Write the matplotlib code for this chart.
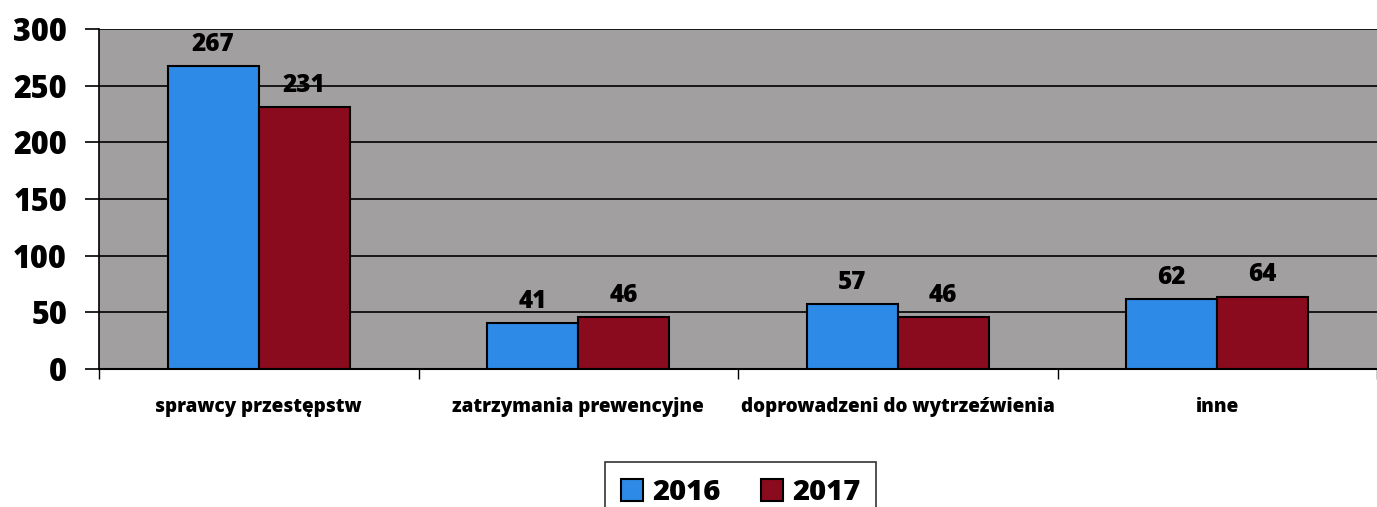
import matplotlib
matplotlib.use("Agg")
import matplotlib.pyplot as plt
import numpy as np

categories = ["sprawcy przestępstw", "zatrzymania prewencyjne",
              "doprowadzeni do wytrzeźwienia", "inne"]
years = ["2016", "2017"]
values_2016 = [267, 41, 57, 62]
values_2017 = [231, 46, 46, 64]

plt.rcParams['font.family'] = ['Open Sans', 'DejaVu Sans']
plt.rcParams['font.weight'] = 'heavy'

fig = plt.figure(figsize=(13.77, 5.07), dpi=100)
ax = fig.add_axes([0.0719, 0.272, 0.9281, 0.671])
ax.set_facecolor("#a19f9f")

x = np.arange(len(categories))
w = 0.285
b1 = ax.bar(x - w / 2, values_2016, w, color="#2d8ae6", edgecolor="black",
            linewidth=1.5, label=years[0], zorder=3)
b2 = ax.bar(x + w / 2, values_2017, w, color="#8a0a1e", edgecolor="black",
            linewidth=1.5, label=years[1], zorder=3)

for bars in (b1, b2):
    for r in bars:
        ax.text(r.get_x() + r.get_width() / 2, r.get_height() + 8, str(int(r.get_height())),
                ha="center", va="bottom", fontsize=17.5, fontweight="heavy", zorder=4)

ax.set_xlim(-0.5, len(categories) - 0.5)
ax.set_ylim(0, 300)
ax.set_yticks(range(0, 301, 50))
ax.yaxis.grid(True, color="black", linewidth=1.2, zorder=1)
ax.tick_params(axis="y", labelsize=22, length=10, width=1.2, pad=13)

ax.set_xticks(x)
ax.set_xticklabels(categories, fontsize=13.6, fontweight="heavy")
ax.set_xticks(np.arange(len(categories) + 1) - 0.5, minor=True)
ax.tick_params(axis="x", which="major", length=0, pad=20)
ax.tick_params(axis="x", which="minor", length=7, width=1)

for s in ["top", "right"]:
    ax.spines[s].set_visible(False)
ax.spines["left"].set_linewidth(1.2)
ax.spines["bottom"].set_linewidth(1.5)

leg = fig.legend(loc="lower center", bbox_to_anchor=(0.538, -0.032), ncol=2,
                 prop={"weight": "heavy", "size": 21},
                 frameon=True, fancybox=False, edgecolor="black",
                 handlelength=0.75, handleheight=0.75, handletextpad=0.3,
                 columnspacing=1.4, borderpad=0.55, borderaxespad=0)
leg.get_frame().set_linewidth(1.2)

fig.savefig("out.png", dpi=100)
